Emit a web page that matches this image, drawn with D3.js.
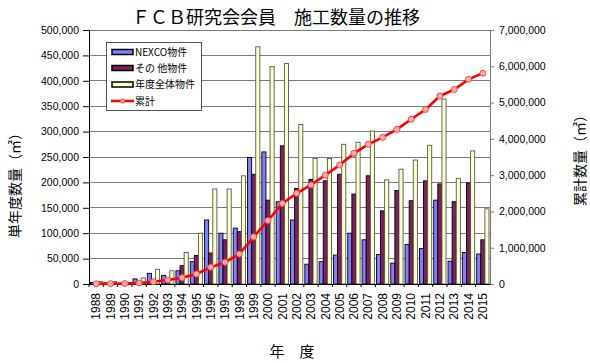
<!DOCTYPE html>
<html><head><meta charset="utf-8">
<script src="https://cdn.jsdelivr.net/npm/d3@7"></script>
<style>
html,body{margin:0;padding:0;background:#fff;}
svg{display:block;}
text{font-family:"Liberation Sans",Arial,"Noto Sans CJK JP",sans-serif;fill:#000;}
.jp{font-family:"Noto Sans CJK JP","Liberation Sans",sans-serif;}
</style></head>
<body>
<svg id="c" width="590" height="363"></svg>
<script>
const years = ["1988","1989","1990","1991","1992","1993","1994","1995","1996","1997","1998","1999","2000","2001","2002","2003","2004","2005","2006","2007","2008","2009","2010","2011","2012","2013","2014","2015"];
const nexco = [3000,2000,0,10000,21000,17000,26000,44000,126000,100000,110000,249000,260000,162000,126000,39000,44000,57000,100000,87000,58000,41000,78000,70000,165000,45000,62000,59000];
const other = [2000,3000,2000,2000,8000,9000,36000,56000,61000,87000,103000,216000,165000,272000,188000,206000,203000,216000,177000,213000,144000,184000,164000,203000,197000,162000,199000,87000];
const total = [5000,5000,2000,12000,29000,26000,62000,100000,187000,187000,213000,467000,428000,434000,314000,247000,247000,275000,279000,301000,205000,226000,244000,273000,364000,208000,262000,148000];
const cumulative = [5000,10000,12000,25000,63000,110000,174000,275000,460000,600000,827000,1300000,1750000,2220000,2500000,2730000,3000000,3280000,3600000,3850000,4040000,4260000,4540000,4810000,5180000,5360000,5640000,5810000];
const leftTicks = [0,50000,100000,150000,200000,250000,300000,350000,400000,450000,500000];
const rightTicks = [0,1000000,2000000,3000000,4000000,5000000,6000000,7000000];
const seriesNames = ["NEXCO物件","その 他物件","年度全体物件","累計"];
const colors = ["#8080ff","#7f1f5f","#ffffcc","#ff0000"];

const svg = d3.select("#c");
const L = 89, R = 490, T = 30, B = 284;
const x = d3.scaleBand().domain(years).range([L, R]).paddingInner(0.14).paddingOuter(0.07);
const xb = d3.scaleBand().domain(years).range([L, R]);
const y = d3.scaleLinear().domain([0, 500000]).range([B, T]);
const y2 = d3.scaleLinear().domain([0, 7000000]).range([B, T]);
const x1 = d3.scaleBand().domain([0,1,2]).range([0, x.bandwidth()]).padding(0);

// gridlines
svg.append("g").selectAll("line").data(leftTicks).join("line")
  .attr("x1", L).attr("x2", R).attr("y1", d => y(d)).attr("y2", d => y(d))
  .attr("stroke", "#7a7a7a").attr("stroke-width", 1).attr("shape-rendering","crispEdges");
svg.append("rect").attr("x", L).attr("y", T).attr("width", R-L).attr("height", B-T)
  .attr("fill","none").attr("stroke","#7a7a7a").attr("shape-rendering","crispEdges");

// bars
const series = [nexco, other, total];
series.forEach((arr, si) => {
  svg.append("g").selectAll("rect").data(arr).join("rect")
    .attr("x", (d,i) => x(years[i]) + x1(si))
    .attr("y", d => y(d))
    .attr("width", x1.bandwidth())
    .attr("height", d => Math.max(0, B - y(d)))
    .attr("fill", colors[si])
    .attr("stroke", si === 2 ? "#555" : "#000")
    .attr("stroke-width", 0.9);
});

// left axis
const ga = svg.append("g").attr("transform", `translate(${L},0)`)
  .call(d3.axisLeft(y).tickValues(leftTicks).tickSize(6).tickPadding(4).tickFormat(d3.format(",")));
ga.select(".domain").attr("stroke","#000");
ga.selectAll(".tick line").attr("stroke","#000");
ga.selectAll("text").attr("font-size","10.5px").attr("fill","#000");

// right axis
const gr = svg.append("g").attr("transform", `translate(${R},0)`)
  .call(d3.axisRight(y2).tickValues(rightTicks).tickSize(4).tickPadding(5).tickFormat(d3.format(",")));
gr.select(".domain").attr("stroke","#7a7a7a");
gr.selectAll(".tick line").attr("stroke","#7a7a7a");
gr.selectAll("text").attr("font-size","10.5px").attr("fill","#000");

// bottom axis
const gb = svg.append("g").attr("transform", `translate(0,${B})`)
  .call(d3.axisBottom(xb).tickSize(0).tickPadding(0));
gb.select(".domain").attr("stroke","#000");
gb.selectAll(".tick text").attr("font-size","12px")
  .attr("transform","translate(0,9) rotate(-90)")
  .attr("text-anchor","end").attr("dy","0.35em").attr("dx","0").attr("y",0).attr("x",0);
svg.append("g").selectAll("line").data(years).join("line")
  .attr("x1", d => xb(d)).attr("x2", d => xb(d)).attr("y1", B).attr("y2", B+3)
  .attr("stroke","#000");

// cumulative line
const line = d3.line().x((d,i) => xb(years[i]) + xb.bandwidth()/2).y(d => y2(d));
svg.append("path").datum(cumulative).attr("d", line)
  .attr("fill","none").attr("stroke", colors[3]).attr("stroke-width", 2.6);
svg.append("g").selectAll("circle").data(cumulative).join("circle")
  .attr("cx", (d,i) => xb(years[i]) + xb.bandwidth()/2).attr("cy", d => y2(d)).attr("r", 3)
  .attr("fill","#ffb0b0").attr("stroke","#ff4040").attr("stroke-width",1);

// title
svg.append("text").attr("class","jp").attr("x", 276).attr("y", 24).attr("text-anchor","middle")
  .attr("font-size","18px").text("ＦＣＢ研究会会員　施工数量の推移");

// axis titles
svg.append("text").attr("class","jp").attr("transform","translate(15,182) rotate(-90)")
  .attr("text-anchor","middle").attr("dy","0.35em").attr("font-size","14px").text("単年度数量（㎡）");
svg.append("text").attr("class","jp").attr("transform","translate(580,157) rotate(-90)")
  .attr("text-anchor","middle").attr("dy","0.35em").attr("font-size","14px").text("累計数量（㎡）");
svg.append("text").attr("class","jp").attr("x", 292).attr("y", 357).attr("text-anchor","middle")
  .attr("font-size","15px").text("年　度");

// legend
const lg = svg.append("g");
lg.append("rect").attr("x",106.5).attr("y",42.5).attr("width",95).attr("height",68)
  .attr("fill","#fff").attr("stroke","#555");
const ly = [52, 68, 84.5, 101];
[0,1,2].forEach(i => {
  lg.append("rect").attr("x",112).attr("y",ly[i]-2.5).attr("width",21).attr("height",5)
    .attr("fill",colors[i]).attr("stroke","#000").attr("stroke-width",1.5);
});
lg.append("line").attr("x1",111).attr("x2",134).attr("y1",ly[3]).attr("y2",ly[3])
  .attr("stroke",colors[3]).attr("stroke-width",2.6);
lg.append("circle").attr("cx",122.5).attr("cy",ly[3]).attr("r",2).attr("fill","#ffb0b0").attr("stroke","#ff4040");
seriesNames.forEach((n,i) => {
  lg.append("text").attr("class","jp").attr("x",135).attr("y",ly[i]).attr("dy","0.35em")
    .attr("font-size","10px").text(n);
});
</script>
</body></html>
